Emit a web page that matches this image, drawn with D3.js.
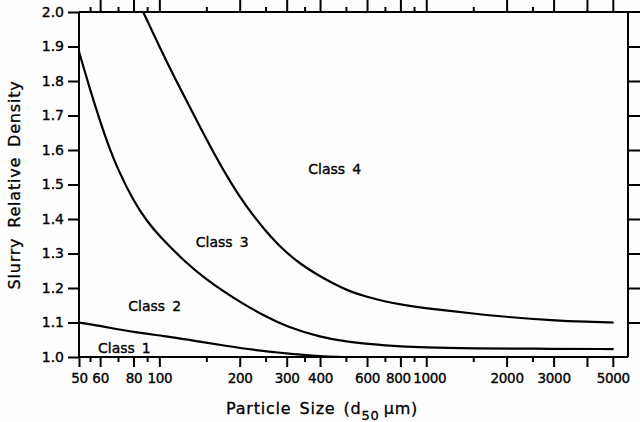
<!DOCTYPE html>
<html><head><meta charset="utf-8">
<script src="https://cdn.jsdelivr.net/npm/d3@7"></script>
<style>
html,body{margin:0;padding:0;background:#fdfdfd;}
svg{display:block;font-family:"DejaVu Sans",sans-serif;}
</style></head>
<body>
<svg id="c" width="640" height="422"></svg>
<script>
// ---- data ----
const xMajorTicks = [50,60,80,100,200,300,400,600,800,1000,2000,3000,4000,5000];
const xMinorTicks = [55,70,90,150,250,350,500,700,900,1500,2500];
const xTickLabels = [50,60,80,100,200,300,400,600,800,1000,2000,3000,5000];
const yTicks = [1.0,1.1,1.2,1.3,1.4,1.5,1.6,1.7,1.8,1.9,2.0];
const yRightTicks = [1.1,1.2,1.3,1.4,1.5,1.6,1.7,1.8,1.9];

// boundary Class 1 / Class 2
const boundary12 = [[50,1.100],[60,1.090],[70,1.080],[80,1.073],[100,1.062],[114,1.057],[142,1.044],[176,1.033],[228,1.020],[271,1.014],[330,1.007],[400,1.002],[480,1.000]];
// boundary Class 2 / Class 3
const boundary23 = [[50,1.885],[55,1.775],[60,1.683],[65,1.605],[70,1.543],[80,1.452],[90,1.393],[100,1.350],[125,1.275],[150,1.225],[175,1.189],[200,1.160],[250,1.117],[300,1.088],[400,1.058],[500,1.044],[700,1.033],[1000,1.027],[1500,1.025],[2500,1.024],[5000,1.023]];
// boundary Class 3 / Class 4
const boundary34 = [[87,2.0],[100,1.90],[114,1.81],[135,1.70],[160,1.59],[185,1.505],[212,1.435],[250,1.365],[291,1.31],[340,1.268],[388,1.240],[450,1.212],[517,1.190],[600,1.174],[700,1.161],[800,1.152],[1000,1.141],[1500,1.126],[2000,1.116],[3000,1.106],[4000,1.102],[5000,1.100]];

const classLabels = [
  {num:"1", x:58.9, y:1.0116},
  {num:"2", x:76.5, y:1.1333},
  {num:"3", x:137, y:1.3197},
  {num:"4", x:361.5, y:1.5296}
];

// ---- chart ----
const svg = d3.select("#c");
svg.append("rect").attr("width",640).attr("height",422).attr("fill","#fdfdfd");

const x = d3.scaleLog().domain([50,5700]).range([79,628]);
const y = d3.scaleLinear().domain([1,2]).range([357,12]);

svg.append("defs").append("clipPath").attr("id","clip")
  .append("rect").attr("x",79).attr("y",12).attr("width",549).attr("height",345);

const styleAxis = (g) => {
  g.select(".domain").remove();
  g.selectAll(".tick line").attr("stroke","#000").attr("stroke-width",2);
  g.selectAll(".tick text").attr("fill","#000").attr("font-size",14)
   .attr("font-family","'DejaVu Sans',sans-serif").attr("stroke","#000").attr("stroke-width",0.35);
};

const labelShift = {800:-2.5, 1000:3};

// bottom majors with labels
svg.append("g").attr("transform","translate(0,357)")
  .call(d3.axisBottom(x).tickValues(xMajorTicks).tickSize(10).tickPadding(6)
    .tickFormat(d => xTickLabels.includes(d) ? String(d) : ""))
  .call(styleAxis)
  .call(g => g.selectAll(".tick text").attr("font-size",13.5).attr("letter-spacing",-0.3)
     .attr("dx", d => labelShift[d] || 0));
// bottom minors
svg.append("g").attr("transform","translate(0,357)")
  .call(d3.axisBottom(x).tickValues(xMinorTicks).tickSize(5).tickFormat(""))
  .call(styleAxis);
// top majors (no 50)
svg.append("g").attr("transform","translate(0,12)")
  .call(d3.axisTop(x).tickValues(xMajorTicks.filter(d=>d!==50)).tickSize(12).tickFormat(""))
  .call(styleAxis);
svg.append("g").attr("transform","translate(0,12)")
  .call(d3.axisTop(x).tickValues(xMinorTicks).tickSize(5).tickFormat(""))
  .call(styleAxis);
// left axis
svg.append("g").attr("transform","translate(79,0)")
  .call(d3.axisLeft(y).tickValues(yTicks).tickSize(11).tickPadding(4).tickFormat(d3.format(".1f")))
  .call(styleAxis);
// right axis ticks
svg.append("g").attr("transform","translate(628,0)")
  .call(d3.axisRight(y).tickValues(yRightTicks).tickSize(12).tickFormat(""))
  .call(styleAxis);

// frame lines
const frame = svg.append("g").attr("stroke","#000").attr("stroke-width",2).attr("fill","none");
frame.append("line").attr("x1",x(50)).attr("x2",640).attr("y1",y(2)).attr("y2",y(2));
frame.append("line").attr("x1",x(50)).attr("x2",x(50)).attr("y1",y(2)).attr("y2",y(1));
frame.append("line").attr("x1",x(50)).attr("x2",x.range()[1]).attr("y1",y(1)).attr("y2",y(1));
frame.append("line").attr("x1",x.range()[1]).attr("x2",x.range()[1]).attr("y1",y(2)).attr("y2",y(1));

// curves
const line = d3.line().x(d=>x(d[0])).y(d=>y(d[1])).curve(d3.curveBasis);
const curves = svg.append("g").attr("clip-path","url(#clip)");
[boundary12, boundary23, boundary34].forEach(c => {
  curves.append("path").attr("d", line(c)).attr("fill","none")
    .attr("stroke","#000").attr("stroke-width",2.2).attr("stroke-linecap","round");
});

// class labels
classLabels.forEach(l => {
  const t = svg.append("text").attr("x",x(l.x)).attr("y",y(l.y))
    .attr("font-size",14).attr("fill","#000").attr("stroke","#000").attr("stroke-width",0.35);
  t.append("tspan").text("Class");
  t.append("tspan").attr("dx",7).text(l.num);
});

// x title
const xt = svg.append("text").attr("x",322).attr("y",414).attr("text-anchor","middle")
  .attr("font-size",16).attr("letter-spacing",0.8).attr("fill","#000")
  .attr("stroke","#000").attr("stroke-width",0.3);
xt.append("tspan").text("Particle");
xt.append("tspan").attr("dx",8).text("Size");
xt.append("tspan").attr("dx",8).text("(d");
xt.append("tspan").attr("dy",6).attr("font-size",13).text("50");
xt.append("tspan").attr("dy",-6).attr("dx",4).text("\u03bcm)");

// y title
svg.append("text").attr("transform","translate(20,185) rotate(-90)").attr("text-anchor","middle")
  .attr("font-size",16).attr("letter-spacing",0.8).attr("word-spacing",4).attr("fill","#000")
  .attr("stroke","#000").attr("stroke-width",0.3)
  .text("Slurry Relative Density");
</script>
</body></html>
